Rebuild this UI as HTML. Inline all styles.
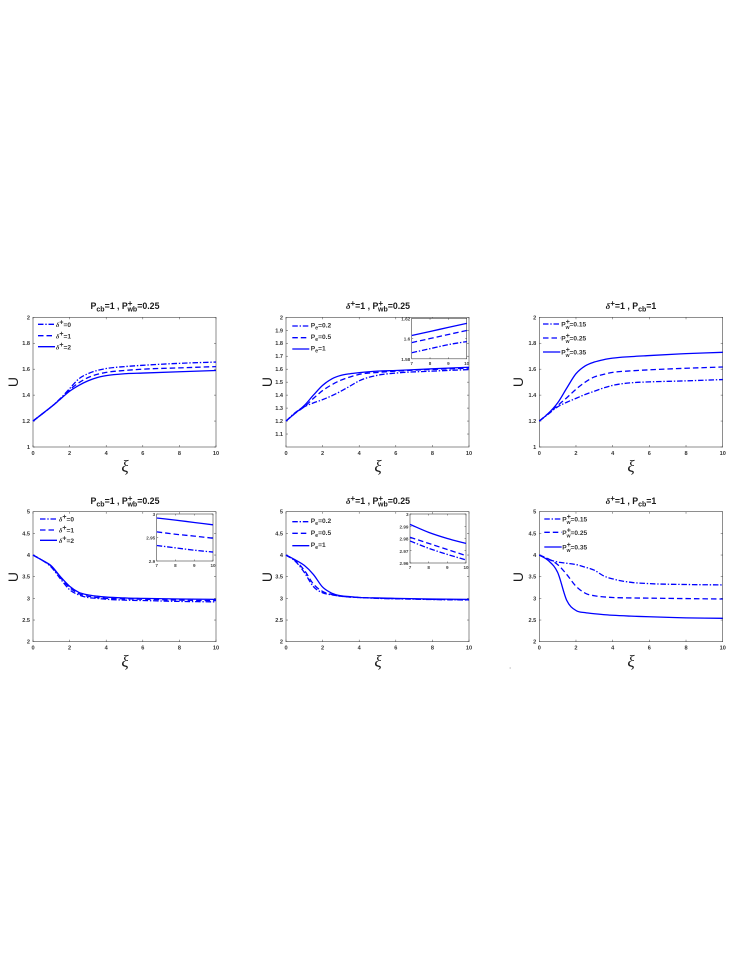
<!DOCTYPE html>
<html lang="en">
<head>
<meta charset="utf-8">
<title>Six panel U versus xi chart</title>
<style>
html,body{margin:0;padding:0;background:#fff;}
svg{display:block;filter:blur(0.3px);}
text{font-family:"Liberation Sans",sans-serif;fill:#1a1a1a;}
.title{font-size:8.8px;font-weight:bold;text-anchor:middle;}
.leg{font-size:6.6px;font-weight:bold;fill:#333;}
.tick{font-size:5.6px;font-weight:bold;fill:#333;}
.itick{font-size:4.6px;font-weight:bold;fill:#444;}
.xi{font-family:"Liberation Serif","DejaVu Serif",serif;font-style:italic;font-size:17px;text-anchor:middle;}
.ulab{font-size:14px;text-anchor:middle;}
.gk{font-family:"Liberation Serif","DejaVu Serif",serif;font-style:italic;}
.ln{fill:none;stroke:#0000ff;stroke-width:1.3;}
.dash{stroke-dasharray:5.5 3;}
.dd{stroke-dasharray:5.5 1.8 1.4 1.8;}
</style>
</head>
<body>
<svg id="figure" xmlns="http://www.w3.org/2000/svg" width="747" height="967" viewBox="0 0 747 967">
<rect x="0" y="0" width="747" height="967" fill="#fff"/>

<!-- Titles -->
<text class="title" x="125" y="309">P<tspan dy="2.5" font-size="7">cb</tspan><tspan dy="-2.5">=1 , P</tspan><tspan dy="-3" font-size="8">+</tspan><tspan dy="5.5" dx="-5" font-size="7">wb</tspan><tspan dy="-2.5">=0.25</tspan></text>
<text class="title" x="378" y="309"><tspan class="gk">δ</tspan><tspan dy="-3" font-size="8">+</tspan><tspan dy="3">=1 , P</tspan><tspan dy="-3" font-size="8">+</tspan><tspan dy="5.5" dx="-5" font-size="7">wb</tspan><tspan dy="-2.5">=0.25</tspan></text>
<text class="title" x="631" y="309"><tspan class="gk">δ</tspan><tspan dy="-3" font-size="8">+</tspan><tspan dy="3">=1 , P</tspan><tspan dy="2.5" font-size="7">cb</tspan><tspan dy="-2.5">=1</tspan></text>
<text class="title" x="125" y="504">P<tspan dy="2.5" font-size="7">cb</tspan><tspan dy="-2.5">=1 , P</tspan><tspan dy="-3" font-size="8">+</tspan><tspan dy="5.5" dx="-5" font-size="7">wb</tspan><tspan dy="-2.5">=0.25</tspan></text>
<text class="title" x="378" y="504"><tspan class="gk">δ</tspan><tspan dy="-3" font-size="8">+</tspan><tspan dy="3">=1 , P</tspan><tspan dy="-3" font-size="8">+</tspan><tspan dy="5.5" dx="-5" font-size="7">wb</tspan><tspan dy="-2.5">=0.25</tspan></text>
<text class="title" x="631" y="504"><tspan class="gk">δ</tspan><tspan dy="-3" font-size="8">+</tspan><tspan dy="3">=1 , P</tspan><tspan dy="2.5" font-size="7">cb</tspan><tspan dy="-2.5">=1</tspan></text>

<!-- Axis titles -->
<text class="xi" x="125" y="472">ξ</text>
<text class="xi" x="378" y="472">ξ</text>
<text class="xi" x="631" y="472">ξ</text>
<text class="xi" x="125" y="667">ξ</text>
<text class="xi" x="378" y="667">ξ</text>
<text class="xi" x="631" y="667">ξ</text>
<text class="ulab" transform="translate(18,382) rotate(-90)">U</text>
<text class="ulab" transform="translate(272,382) rotate(-90)">U</text>
<text class="ulab" transform="translate(523,382) rotate(-90)">U</text>
<text class="ulab" transform="translate(18,577) rotate(-90)">U</text>
<text class="ulab" transform="translate(272,577) rotate(-90)">U</text>
<text class="ulab" transform="translate(523,577) rotate(-90)">U</text>

<!-- Legends -->
<g>
<line class="ln dd" x1="38" x2="55" y1="324.3" y2="324.3"/>
<text class="leg" x="56" y="327"><tspan class="gk">δ</tspan><tspan dy="-2.5" font-size="7">+</tspan><tspan dy="2.5">=0</tspan></text>
<line class="ln dash" x1="38" x2="55" y1="335.7" y2="335.7"/>
<text class="leg" x="56" y="338.4"><tspan class="gk">δ</tspan><tspan dy="-2.5" font-size="7">+</tspan><tspan dy="2.5">=1</tspan></text>
<line class="ln" x1="38" x2="55" y1="346.7" y2="346.7"/>
<text class="leg" x="56" y="349.4"><tspan class="gk">δ</tspan><tspan dy="-2.5" font-size="7">+</tspan><tspan dy="2.5">=2</tspan></text>
</g>
<g>
<line class="ln dd" x1="292.3" x2="309.3" y1="326" y2="326"/>
<text class="leg" x="310.7" y="327.5">P<tspan dy="2" font-size="5.5">e</tspan><tspan dy="-2">=0.2</tspan></text>
<line class="ln dash" x1="292.3" x2="309.3" y1="337.7" y2="337.7"/>
<text class="leg" x="310.7" y="339.2">P<tspan dy="2" font-size="5.5">e</tspan><tspan dy="-2">=0.5</tspan></text>
<line class="ln" x1="292.3" x2="309.3" y1="349" y2="349"/>
<text class="leg" x="310.7" y="350.5">P<tspan dy="2" font-size="5.5">e</tspan><tspan dy="-2">=1</tspan></text>
</g>
<g>
<line class="ln dd" x1="543" x2="560.3" y1="324" y2="324"/>
<text class="leg" x="561.3" y="326.5">P<tspan dy="-2.5" font-size="7">+</tspan><tspan dy="5" dx="-4.2" font-size="5">w</tspan><tspan dy="-2.5">=0.15</tspan></text>
<line class="ln dash" x1="543" x2="560.3" y1="338" y2="338"/>
<text class="leg" x="561.3" y="340.5">P<tspan dy="-2.5" font-size="7">+</tspan><tspan dy="5" dx="-4.2" font-size="5">w</tspan><tspan dy="-2.5">=0.25</tspan></text>
<line class="ln" x1="543" x2="560.3" y1="352" y2="352"/>
<text class="leg" x="561.3" y="354.5">P<tspan dy="-2.5" font-size="7">+</tspan><tspan dy="5" dx="-4.2" font-size="5">w</tspan><tspan dy="-2.5">=0.35</tspan></text>
</g>
<g>
<line class="ln dd" x1="40" x2="57" y1="519" y2="519"/>
<text class="leg" x="59" y="521.7"><tspan class="gk">δ</tspan><tspan dy="-2.5" font-size="7">+</tspan><tspan dy="2.5">=0</tspan></text>
<line class="ln dash" x1="40" x2="57" y1="530" y2="530"/>
<text class="leg" x="59" y="532.7"><tspan class="gk">δ</tspan><tspan dy="-2.5" font-size="7">+</tspan><tspan dy="2.5">=1</tspan></text>
<line class="ln" x1="40" x2="57" y1="540.3" y2="540.3"/>
<text class="leg" x="59" y="543"><tspan class="gk">δ</tspan><tspan dy="-2.5" font-size="7">+</tspan><tspan dy="2.5">=2</tspan></text>
</g>
<g>
<line class="ln dd" x1="292.3" x2="309.3" y1="521.7" y2="521.7"/>
<text class="leg" x="310.7" y="523.2">P<tspan dy="2" font-size="5.5">e</tspan><tspan dy="-2">=0.2</tspan></text>
<line class="ln dash" x1="292.3" x2="309.3" y1="533.3" y2="533.3"/>
<text class="leg" x="310.7" y="534.8">P<tspan dy="2" font-size="5.5">e</tspan><tspan dy="-2">=0.5</tspan></text>
<line class="ln" x1="292.3" x2="309.3" y1="545.7" y2="545.7"/>
<text class="leg" x="310.7" y="547.2">P<tspan dy="2" font-size="5.5">e</tspan><tspan dy="-2">=1</tspan></text>
</g>
<g>
<line class="ln dd" x1="544.3" x2="561.7" y1="519" y2="519"/>
<text class="leg" x="562.3" y="521.5">P<tspan dy="-2.5" font-size="7">+</tspan><tspan dy="5" dx="-4.2" font-size="5">w</tspan><tspan dy="-2.5">=0.15</tspan></text>
<line class="ln dash" x1="544.3" x2="561.7" y1="532.3" y2="532.3"/>
<text class="leg" x="562.3" y="534.8">P<tspan dy="-2.5" font-size="7">+</tspan><tspan dy="5" dx="-4.2" font-size="5">w</tspan><tspan dy="-2.5">=0.25</tspan></text>
<line class="ln" x1="544.3" x2="561.7" y1="547" y2="547"/>
<text class="leg" x="562.3" y="549.5">P<tspan dy="-2.5" font-size="7">+</tspan><tspan dy="5" dx="-4.2" font-size="5">w</tspan><tspan dy="-2.5">=0.35</tspan></text>
</g>
<rect x="509.5" y="667.5" width="1.5" height="1" fill="#bbb"/>
</svg>

<script>
// ---- Shared sample positions (xi) of the values ----
const xiMain = [0, 0.5, 1, 1.5, 2, 2.5, 3, 3.5, 4, 5, 6, 8, 10];
const xiInset = [7, 8, 9, 10];

// ---- Tick labels ----
const xTicksMain = [0, 2, 4, 6, 8, 10];
const xTicksInset = [7, 8, 9, 10];
const yTicksTopLeft = [1, 1.2, 1.4, 1.6, 1.8, 2];
const yTicksTopMiddle = [1.1, 1.2, 1.3, 1.4, 1.5, 1.6, 1.7, 1.8, 1.9, 2];
const yTicksBottom = [2, 2.5, 3, 3.5, 4, 4.5, 5];
const yTicksInsetTop = [1.58, 1.6, 1.62];
const yTicksInsetBottomLeft = [2.9, 2.95, 3];
const yTicksInsetBottomMiddle = [2.96, 2.97, 2.98, 2.99, 3];

// ---- Top-left panel ----
const topLeftDelta0 = [1.2, 1.255, 1.31, 1.375, 1.45, 1.525, 1.565, 1.59, 1.605, 1.62, 1.63, 1.645, 1.655];
const topLeftDelta1 = [1.2, 1.255, 1.31, 1.37, 1.44, 1.495, 1.535, 1.56, 1.575, 1.59, 1.6, 1.61, 1.62];
const topLeftDelta2 = [1.2, 1.255, 1.31, 1.37, 1.43, 1.475, 1.51, 1.535, 1.55, 1.565, 1.57, 1.58, 1.59];

// ---- Top-middle panel ----
const topMiddlePe02 = [1.2, 1.265, 1.31, 1.34, 1.365, 1.395, 1.43, 1.47, 1.51, 1.553, 1.57, 1.585, 1.597];
const topMiddlePe05 = [1.2, 1.26, 1.31, 1.375, 1.435, 1.48, 1.515, 1.54, 1.56, 1.575, 1.585, 1.598, 1.608];
const topMiddlePe1 = [1.2, 1.26, 1.32, 1.4, 1.475, 1.525, 1.552, 1.565, 1.573, 1.585, 1.59, 1.603, 1.615];
const insetTopMiddlePe02 = [1.586, 1.59, 1.594, 1.597];
const insetTopMiddlePe05 = [1.596, 1.6, 1.604, 1.608];
const insetTopMiddlePe1 = [1.603, 1.607, 1.611, 1.615];

// ---- Top-right panel ----
const topRightPw015 = [1.2, 1.255, 1.31, 1.345, 1.375, 1.405, 1.43, 1.455, 1.475, 1.495, 1.502, 1.51, 1.52];
const topRightPw025 = [1.2, 1.26, 1.32, 1.38, 1.445, 1.5, 1.54, 1.56, 1.575, 1.587, 1.595, 1.607, 1.617];
const topRightPw035 = [1.2, 1.26, 1.34, 1.455, 1.565, 1.625, 1.655, 1.673, 1.685, 1.697, 1.705, 1.72, 1.73];

// ---- Bottom-left panel ----
const bottomLeftDelta0 = [4, 3.88, 3.72, 3.45, 3.2, 3.08, 3.02, 3, 2.98, 2.96, 2.95, 2.93, 2.919];
const bottomLeftDelta1 = [4, 3.88, 3.74, 3.48, 3.25, 3.11, 3.05, 3.02, 3, 2.99, 2.98, 2.96, 2.948];
const bottomLeftDelta2 = [4, 3.88, 3.75, 3.5, 3.28, 3.14, 3.08, 3.05, 3.03, 3.01, 3, 2.985, 2.977];
const insetBottomLeftDelta0 = [2.933, 2.928, 2.923, 2.919];
const insetBottomLeftDelta1 = [2.962, 2.957, 2.953, 2.9485];
const insetBottomLeftDelta2 = [2.9915, 2.987, 2.982, 2.977];

// ---- Bottom-middle panel ----
const bottomMiddlePe02 = [4, 3.86, 3.6, 3.27, 3.13, 3.08, 3.05, 3.03, 3.02, 3, 2.99, 2.973, 2.9625];
const bottomMiddlePe05 = [4, 3.87, 3.65, 3.33, 3.16, 3.09, 3.05, 3.03, 3.02, 3.005, 2.995, 2.977, 2.966];
const bottomMiddlePe1 = [4, 3.89, 3.76, 3.55, 3.26, 3.12, 3.06, 3.04, 3.02, 3.01, 3, 2.986, 2.976];
const insetBottomMiddlePe02 = [2.978, 2.972, 2.967, 2.9625];
const insetBottomMiddlePe05 = [2.981, 2.976, 2.971, 2.966];
const insetBottomMiddlePe1 = [2.9915, 2.985, 2.98, 2.976];

// ---- Bottom-right panel ----
const bottomRightPw015 = [4, 3.9, 3.84, 3.81, 3.78, 3.72, 3.65, 3.52, 3.45, 3.37, 3.34, 3.32, 3.31];
const bottomRightPw025 = [4, 3.91, 3.78, 3.55, 3.28, 3.12, 3.06, 3.035, 3.02, 3.01, 3.005, 2.995, 2.985];
const bottomRightPw035 = [4, 3.87, 3.6, 2.95, 2.72, 2.67, 2.645, 2.625, 2.61, 2.59, 2.575, 2.55, 2.54];

const SVG_NS = 'http://www.w3.org/2000/svg';
const figure = document.getElementById('figure');

function linearScale(d0, d1, r0, r1) {
  return function (v) { return r0 + (v - d0) * (r1 - r0) / (d1 - d0); };
}

function smoothPath(px, py) {
  const n = px.length;
  const slope = [];
  for (let i = 0; i < n - 1; i++) slope.push((py[i + 1] - py[i]) / (px[i + 1] - px[i]));
  const m = [slope[0]];
  for (let i = 1; i < n - 1; i++) {
    const h0 = px[i] - px[i - 1];
    const h1 = px[i + 1] - px[i];
    m.push((h1 * slope[i - 1] + h0 * slope[i]) / (h0 + h1));
  }
  m.push(slope[n - 2]);
  let d = 'M' + px[0].toFixed(2) + ' ' + py[0].toFixed(2);
  for (let i = 0; i < n - 1; i++) {
    const h = (px[i + 1] - px[i]) / 3;
    d += 'C' + (px[i] + h).toFixed(2) + ' ' + (py[i] + m[i] * h).toFixed(2) + ' ' +
      (px[i + 1] - h).toFixed(2) + ' ' + (py[i + 1] - m[i + 1] * h).toFixed(2) + ' ' +
      px[i + 1].toFixed(2) + ' ' + py[i + 1].toFixed(2);
  }
  return d;
}

function drawTick(parent, x1, y1, x2, y2) {
  const tick = document.createElementNS(SVG_NS, 'line');
  
  
  tick.setAttribute('x1', x1);
  tick.setAttribute('y1', y1);
  tick.setAttribute('x2', x2);
  tick.setAttribute('y2', y2);
  tick.setAttribute('stroke', '#444');
  tick.setAttribute('stroke-width', '0.5');
  parent.appendChild(tick);
}

function drawLabel(parent, cls, x, y, anchor, value) {
  const label = document.createElementNS(SVG_NS, 'text');
  
  
  label.setAttribute('class', cls);
  label.setAttribute('x', x);
  label.setAttribute('y', y);
  label.setAttribute('text-anchor', anchor);
  label.textContent = String(value);
  parent.appendChild(label);
}

function drawPlot(name, box, xDomain, yDomain, xTicks, yTicks, xs, series, inset) {
  const group = document.createElementNS(SVG_NS, 'g');
  
  
  figure.appendChild(group);

  const sx = linearScale(xDomain[0], xDomain[1], box.left, box.left + box.width);
  const sy = linearScale(yDomain[0], yDomain[1], box.top + box.height, box.top);
  const bottom = box.top + box.height;
  const right = box.left + box.width;
  const tickLen = inset ? 1.5 : 2;

  const frame = document.createElementNS(SVG_NS, 'rect');
  
  
  frame.setAttribute('x', box.left);
  frame.setAttribute('y', box.top);
  frame.setAttribute('width', box.width);
  frame.setAttribute('height', box.height);
  frame.setAttribute('fill', inset ? '#fff' : 'none');
  frame.setAttribute('stroke', '#444');
  frame.setAttribute('stroke-width', '0.6');
  group.appendChild(frame);

  const labelClass = inset ? 'itick' : 'tick';
  xTicks.forEach(function (t) {
    drawTick(group, sx(t), bottom, sx(t), bottom - tickLen);
    drawTick(group, sx(t), box.top, sx(t), box.top + tickLen);
    drawLabel(group, labelClass, sx(t), bottom + (inset ? 6 : 8), 'middle', t);
  });
  yTicks.forEach(function (t) {
    drawTick(group, box.left, sy(t), box.left + tickLen, sy(t));
    drawTick(group, right, sy(t), right - tickLen, sy(t));
    drawLabel(group, labelClass, box.left - (inset ? 1.5 : 3), sy(t) + 2, 'end', t);
  });

  series.forEach(function (s) {
    const curve = document.createElementNS(SVG_NS, 'path');
    
    
    curve.setAttribute('class', 'ln ' + s.style);
    curve.setAttribute('d', smoothPath(xs.map(sx), s.values.map(sy)));
    group.appendChild(curve);
  });
}

drawPlot('plot-top-left', {left: 33, top: 317.3, width: 183, height: 129.7}, [0, 10], [1, 2], xTicksMain, yTicksTopLeft, xiMain, [
  {name: 'curve-delta-0', style: 'dd', values: topLeftDelta0},
  {name: 'curve-delta-1', style: 'dash', values: topLeftDelta1},
  {name: 'curve-delta-2', style: '', values: topLeftDelta2}
], false);

drawPlot('plot-top-middle', {left: 286, top: 317.3, width: 183, height: 129.7}, [0, 10], [1, 2], xTicksMain, yTicksTopMiddle, xiMain, [
  {name: 'curve-pe-0-2', style: 'dd', values: topMiddlePe02},
  {name: 'curve-pe-0-5', style: 'dash', values: topMiddlePe05},
  {name: 'curve-pe-1', style: '', values: topMiddlePe1}
], false);

drawPlot('inset-top-middle', {left: 411.7, top: 318.3, width: 55, height: 40.5}, [7, 10], [1.58, 1.62], xTicksInset, yTicksInsetTop, xiInset, [
  {name: 'inset-curve-pe-0-2', style: 'dd', values: insetTopMiddlePe02},
  {name: 'inset-curve-pe-0-5', style: 'dash', values: insetTopMiddlePe05},
  {name: 'inset-curve-pe-1', style: '', values: insetTopMiddlePe1}
], true);

drawPlot('plot-top-right', {left: 539.3, top: 317.3, width: 183.4, height: 129.7}, [0, 10], [1, 2], xTicksMain, yTicksTopLeft, xiMain, [
  {name: 'curve-pw-0-15', style: 'dd', values: topRightPw015},
  {name: 'curve-pw-0-25', style: 'dash', values: topRightPw025},
  {name: 'curve-pw-0-35', style: '', values: topRightPw035}
], false);

drawPlot('plot-bottom-left', {left: 33, top: 511.7, width: 183, height: 130}, [0, 10], [2, 5], xTicksMain, yTicksBottom, xiMain, [
  {name: 'curve-delta-0', style: 'dd', values: bottomLeftDelta0},
  {name: 'curve-delta-1', style: 'dash', values: bottomLeftDelta1},
  {name: 'curve-delta-2', style: '', values: bottomLeftDelta2}
], false);

drawPlot('inset-bottom-left', {left: 156.7, top: 514, width: 56.3, height: 47}, [7, 10], [2.9, 3], xTicksInset, yTicksInsetBottomLeft, xiInset, [
  {name: 'inset-curve-delta-0', style: 'dd', values: insetBottomLeftDelta0},
  {name: 'inset-curve-delta-1', style: 'dash', values: insetBottomLeftDelta1},
  {name: 'inset-curve-delta-2', style: '', values: insetBottomLeftDelta2}
], true);

drawPlot('plot-bottom-middle', {left: 286, top: 511.7, width: 183, height: 130}, [0, 10], [2, 5], xTicksMain, yTicksBottom, xiMain, [
  {name: 'curve-pe-0-2', style: 'dd', values: bottomMiddlePe02},
  {name: 'curve-pe-0-5', style: 'dash', values: bottomMiddlePe05},
  {name: 'curve-pe-1', style: '', values: bottomMiddlePe1}
], false);

drawPlot('inset-bottom-middle', {left: 410, top: 514, width: 56, height: 49}, [7, 10], [2.96, 3], xTicksInset, yTicksInsetBottomMiddle, xiInset, [
  {name: 'inset-curve-pe-0-2', style: 'dd', values: insetBottomMiddlePe02},
  {name: 'inset-curve-pe-0-5', style: 'dash', values: insetBottomMiddlePe05},
  {name: 'inset-curve-pe-1', style: '', values: insetBottomMiddlePe1}
], true);

drawPlot('plot-bottom-right', {left: 539.3, top: 511.7, width: 183.4, height: 130}, [0, 10], [2, 5], xTicksMain, yTicksBottom, xiMain, [
  {name: 'curve-pw-0-15', style: 'dd', values: bottomRightPw015},
  {name: 'curve-pw-0-25', style: 'dash', values: bottomRightPw025},
  {name: 'curve-pw-0-35', style: '', values: bottomRightPw035}
], false);
</script>
</body>
</html>
